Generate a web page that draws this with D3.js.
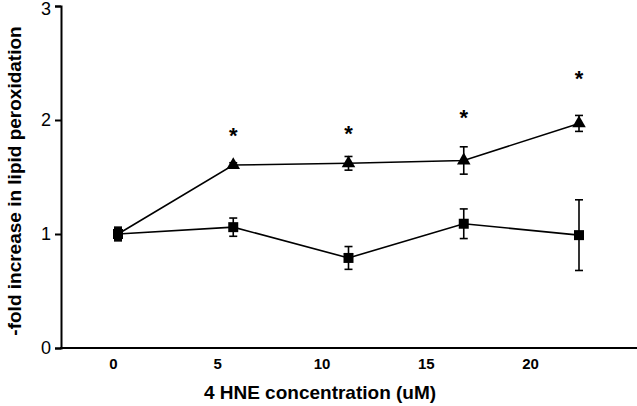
<!DOCTYPE html>
<html><head><meta charset="utf-8">
<script src="https://cdn.jsdelivr.net/npm/d3@7"></script>
<style>body{margin:0;background:#fff;} svg{display:block;}</style>
</head><body>
<svg id="c" width="637" height="406"></svg>
<script>
const concentrations = [0, 5, 10, 15, 20];
const treatedMean = [1.0, 1.605, 1.62, 1.645, 1.97];
const treatedErr  = [0.05, 0.02, 0.06, 0.12, 0.07];
const controlMean = [1.0, 1.06, 0.79, 1.09, 0.99];
const controlErr  = [0.06, 0.08, 0.10, 0.13, 0.31];
const asteriskAt  = [5, 10, 15, 20];
const asteriskY   = [1.89, 1.9, 2.04, 2.39];
const yTicks = [0, 1, 2, 3];
const xTickLabels = ["0", "5", "10", "15", "20"];

const svg = d3.select("#c");
const font = "'Liberation Sans', Arial, sans-serif";

const y = d3.scaleLinear().domain([0, 3]).range([348, 6]);
const x = d3.scaleLinear().domain([0, 20]).range([118, 579]);
const xLab = d3.scaleLinear().domain([0, 20]).range([113, 530]);

// Y axis
const yAxis = svg.append("g").attr("transform", "translate(61,0)")
  .call(d3.axisLeft(y).tickValues(yTicks).tickFormat(d3.format("d")).tickSize(6).tickPadding(4));
yAxis.select(".domain").attr("stroke", "#000").attr("stroke-width", 2);
yAxis.selectAll(".tick line").attr("stroke-width", 2);
yAxis.selectAll("text").attr("font-family", font).attr("font-size", 18).attr("fill", "#000");
yAxis.selectAll(".tick").filter(d => d === 3).select("text").attr("dy", "0.45em");

// X axis line
svg.append("line").attr("x1", 60).attr("x2", 637).attr("y1", 348).attr("y2", 348)
  .attr("stroke", "#000").attr("stroke-width", 2);
const xAxis = svg.append("g").attr("transform", "translate(0,348)")
  .call(d3.axisBottom(xLab).tickValues(concentrations).tickFormat((d, i) => xTickLabels[i]).tickSize(0).tickPadding(10));
xAxis.select(".domain").remove();
xAxis.selectAll("text").attr("font-family", font).attr("font-size", 15).attr("font-weight", "bold").attr("fill", "#000");

// Titles
svg.append("text").attr("x", 320).attr("y", 399).attr("text-anchor", "middle")
  .attr("font-family", font).attr("font-weight", "bold").attr("font-size", 19)
  .text("4 HNE concentration (uM)");
svg.append("text").attr("transform", "translate(21,181) rotate(-90)").attr("text-anchor", "middle")
  .attr("font-family", font).attr("font-weight", "bold").attr("font-size", 19)
  .text("-fold increase in lipid peroxidation");

function series(means, errs, shape) {
  const data = concentrations.map((c, i) => ({c, m: means[i], e: errs[i]}));
  svg.append("path").datum(data)
    .attr("d", d3.line().x(d => x(d.c)).y(d => y(d.m)))
    .attr("fill", "none").attr("stroke", "#000").attr("stroke-width", 1.6);
  const g = svg.append("g");
  data.forEach(d => {
    const cx = x(d.c), t = y(d.m + d.e), b = y(d.m - d.e);
    g.append("line").attr("x1", cx).attr("x2", cx).attr("y1", t).attr("y2", b).attr("stroke", "#000").attr("stroke-width", 1.6);
    [t, b].forEach(yy => g.append("line").attr("x1", cx - 4).attr("x2", cx + 4).attr("y1", yy).attr("y2", yy).attr("stroke", "#000").attr("stroke-width", 1.6));
  });
  g.selectAll("path.m").data(data.filter(d => !(shape === d3.symbolTriangle && d.c === 0))).join("path")
    .attr("transform", d => `translate(${x(d.c)},${y(d.m)})`)
    .attr("d", d3.symbol().type(shape).size(shape === d3.symbolSquare ? 100 : 80))
    .attr("fill", "#000");
}
series(controlMean, controlErr, d3.symbolSquare);
series(treatedMean, treatedErr, d3.symbolTriangle);

svg.selectAll("text.ast").data(asteriskAt).join("text")
  .attr("x", d => x(d)).attr("y", (d, i) => y(asteriskY[i]) + 10)
  .attr("text-anchor", "middle").attr("font-family", font).attr("font-weight", "bold").attr("font-size", 22)
  .text("*");
</script>
</body></html>
